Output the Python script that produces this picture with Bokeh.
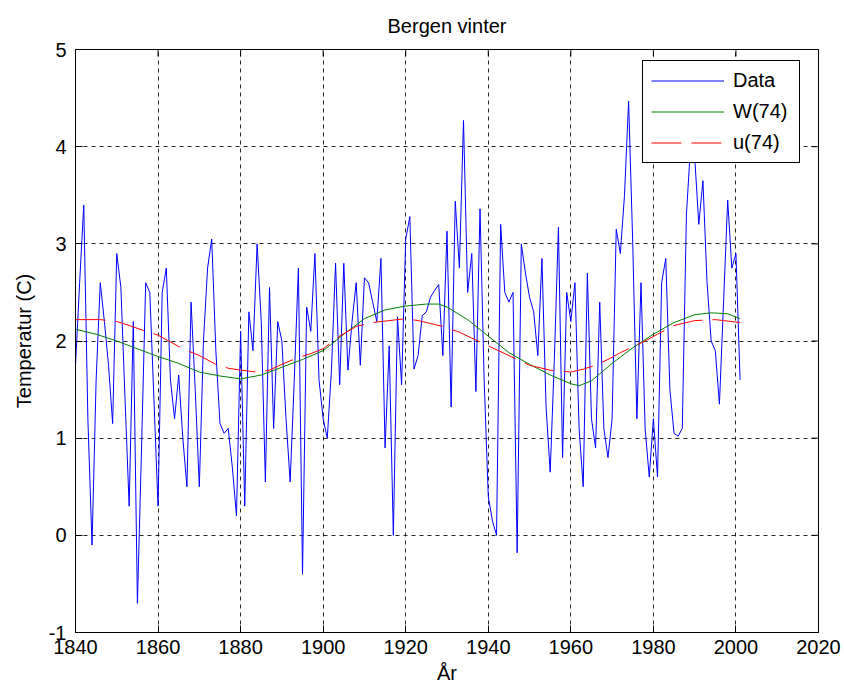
import math
from bokeh.plotting import figure
from bokeh.models import Range1d, FixedTicker, Legend, LegendItem
from bokeh.embed import file_html
from bokeh.resources import INLINE

FONT = "Liberation Sans"

# ---- data ----
years = list(range(1840, 2002))
temps = [
    1.75, 2.6, 3.4, 1.2, -0.1, 1.6, 2.6, 2.2, 1.75, 1.15,      # 1840-1849
    2.9, 2.55, 1.4, 0.3, 2.2, -0.7, 0.9, 2.6, 2.5, 1.4,        # 1850-1859
    0.3, 2.5, 2.75, 1.6, 1.2, 1.65, 1.0, 0.5, 2.4, 1.5,        # 1860-1869
    0.5, 2.0, 2.75, 3.05, 1.9, 1.15, 1.05, 1.1, 0.7, 0.2,      # 1870-1879
    2.1, 0.3, 2.3, 1.9, 3.0, 2.2, 0.55, 2.55, 1.1, 2.2,        # 1880-1889
    2.0, 1.2, 0.55, 1.6, 2.75, -0.4, 2.35, 2.1, 2.9, 1.6,      # 1890-1899
    1.2, 1.0, 1.7, 2.8, 1.55, 2.8, 1.7, 2.2, 2.6, 1.75,        # 1900-1909
    2.65, 2.6, 2.4, 2.2, 2.85, 0.9, 1.95, 0.0, 2.25, 1.55,     # 1910-1919
    3.05, 3.28, 1.71, 1.85, 2.26, 2.3, 2.45, 2.52, 2.58, 1.85, # 1920-1929
    3.13, 1.32, 3.44, 2.75, 4.27, 2.5, 2.9, 1.48, 3.36, 1.6,   # 1930-1939
    0.4, 0.15, 0.0, 3.2, 2.5, 2.4, 2.5, -0.18, 3.0, 2.7,       # 1940-1949
    2.45, 2.3, 1.85, 2.85, 1.32, 0.65, 1.8, 3.17, 0.8, 2.5,    # 1950-1959
    2.2, 2.6, 1.1, 0.5, 2.7, 1.2, 0.9, 2.4, 1.1, 0.8,          # 1960-1969
    1.2, 3.15, 2.9, 3.5, 4.47, 3.0, 1.2, 2.6, 1.1, 0.6,        # 1970-1979
    1.2, 0.6, 2.6, 2.85, 1.5, 1.05, 1.02, 1.1, 3.3, 4.0,       # 1980-1989
    3.9, 3.2, 3.65, 2.6, 2.0, 1.9, 1.35, 2.4, 3.45, 2.75,      # 1990-1999
    2.9, 1.6,                                                  # 2000-2001
]

w_years = [1840, 1845, 1850, 1855, 1860, 1865, 1870, 1875, 1880, 1885,
           1890, 1895, 1900, 1905, 1910, 1915, 1920, 1925, 1928, 1930,
           1935, 1940, 1945, 1950, 1955, 1960, 1962, 1965, 1970, 1975,
           1980, 1985, 1990, 1994, 1998, 2001]
w_vals = [2.12, 2.07, 2.0, 1.92, 1.84, 1.77, 1.68, 1.64, 1.61, 1.65,
          1.73, 1.81, 1.9, 2.07, 2.23, 2.32, 2.36, 2.38, 2.38, 2.35,
          2.22, 2.05, 1.88, 1.76, 1.65, 1.56, 1.54, 1.59, 1.77, 1.93,
          2.07, 2.19, 2.27, 2.29, 2.28, 2.23]

u_years = [1840, 1846, 1850, 1853, 1857, 1860, 1863, 1866, 1870, 1874,
           1877, 1880, 1884, 1887, 1890, 1894, 1897, 1900, 1904, 1908,
           1912, 1916, 1920, 1923, 1926, 1929, 1933, 1936, 1940, 1946,
           1950, 1955, 1960, 1963, 1966, 1969, 1972, 1975, 1978, 1981,
           1985, 1990, 1995, 2001]
u_vals = [2.22, 2.22, 2.2, 2.16, 2.1, 2.06, 1.99, 1.92, 1.85, 1.76,
          1.72, 1.7, 1.68, 1.7, 1.76, 1.83, 1.87, 1.92, 2.05, 2.15,
          2.19, 2.21, 2.23, 2.21, 2.18, 2.15, 2.09, 2.03, 1.95, 1.83,
          1.75, 1.7, 1.68, 1.71, 1.75, 1.81, 1.88, 1.94, 2.0, 2.07,
          2.16, 2.21, 2.22, 2.19]

x_ticks = [1840, 1860, 1880, 1900, 1920, 1940, 1960, 1980, 2000, 2020]
y_ticks = [-1, 0, 1, 2, 3, 4, 5]
y_tick_text = {-1: "-1"}

title_text = "Bergen vinter"
x_label = "År"
y_label = "Temperatur (C)"
legend_labels = ["Data", "W(74)", "u(74)"]

# ---- figure ----
p = figure(width=844, height=686, output_backend="svg", toolbar_location=None,
           x_range=Range1d(x_ticks[0], x_ticks[-1]),
           y_range=Range1d(y_ticks[0], y_ticks[-1]),
           min_border_left=75, min_border_right=26, min_border_top=49,
           min_border_bottom=54)
p.background_fill_color = "white"
p.border_fill_color = "white"
p.outline_line_color = "black"
p.outline_line_alpha = 1.0

p.title.text = title_text
p.title.align = "center"
p.title.text_font = FONT
p.title.text_font_size = "20px"
p.title.text_font_style = "normal"
p.title.text_color = "black"
p.title.standoff = 25

for ax, ticks in ((p.xaxis[0], x_ticks), (p.yaxis[0], y_ticks)):
    ax.ticker = FixedTicker(ticks=ticks)
    ax.axis_line_color = "black"
    ax.major_tick_line_color = "black"
    ax.major_tick_in = 7
    ax.major_tick_out = 0
    ax.minor_tick_line_color = None
    ax.major_label_text_font = FONT
    ax.major_label_text_font_size = "20px"
    ax.major_label_text_color = "black"
    ax.axis_label_text_font = FONT
    ax.axis_label_text_font_size = "20px"
    ax.axis_label_text_font_style = "normal"
    ax.axis_label_text_color = "black"

p.yaxis[0].major_label_overrides = y_tick_text
p.xaxis[0].major_label_standoff = 7
p.xaxis[0].axis_label = x_label
p.xaxis[0].axis_label_standoff = 5
p.yaxis[0].major_label_standoff = 9
p.yaxis[0].axis_label = y_label
p.yaxis[0].axis_label_standoff = 11

p.xgrid.ticker = FixedTicker(ticks=x_ticks)
p.ygrid.ticker = FixedTicker(ticks=y_ticks)
p.grid.grid_line_color = "black"
p.grid.grid_line_alpha = 0.85
p.grid.grid_line_dash = "4 4"
p.grid.grid_line_width = 1

# inward tick marks on the top and right edges of the box (half clipped by the frame)
p.scatter(x=x_ticks, y=[y_ticks[-1]] * len(x_ticks), marker="dash",
          angle=math.pi / 2, size=14, line_color="black", line_width=1)
p.scatter(x=[x_ticks[-1]] * len(y_ticks), y=y_ticks, marker="dash",
          size=14, line_color="black", line_width=1)

r_data = p.line(years, temps, line_color="#0000FF", line_width=1)
r_w = p.line(w_years, w_vals, line_color="#008000", line_width=1)
r_u = p.line(u_years, u_vals, line_color="#FF0000", line_width=1, line_dash="30 10")

legend = Legend(items=[LegendItem(label=legend_labels[0], renderers=[r_data]),
                       LegendItem(label=legend_labels[1], renderers=[r_w]),
                       LegendItem(label=legend_labels[2], renderers=[r_u])],
                location=(567, 469))
legend.label_text_font = FONT
legend.label_text_font_size = "20px"
legend.label_text_color = "black"
legend.padding = 8
legend.spacing = 8
legend.glyph_width = 73
legend.glyph_height = 23
legend.label_height = 23
legend.label_width = 58
legend.label_standoff = 9
legend.border_line_color = "black"
legend.border_line_alpha = 1.0
legend.background_fill_color = "white"
legend.background_fill_alpha = 1.0
p.add_layout(legend)

open("out.html", "w").write(file_html(p, INLINE))
